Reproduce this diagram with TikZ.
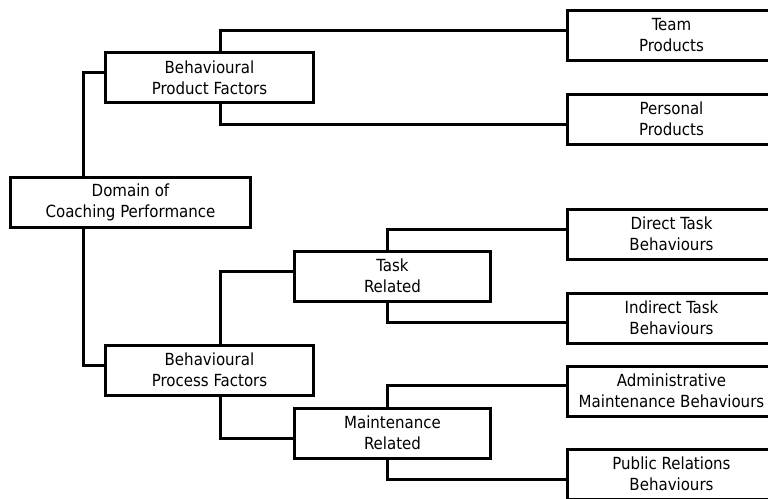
\documentclass[tikz,border=0pt]{standalone}
\usepackage{fontspec}
\newfontfamily\boxfont{DejaVu Sans Condensed}
\begin{document}
\begin{tikzpicture}[x=1pt,y=-1pt]

\def\LINEW{3pt}
\def\BOXTEXT{\boxfont\fontsize{16.7}{21}\selectfont}
\tikzset{box/.style={draw,line width=\LINEW,minimum height=50pt,inner sep=0pt,align=center,font=\BOXTEXT},
         link/.style={line width=\LINEW}}
	\clip (0,0) rectangle (768,498);
	\fill[white] (0,0) rectangle (768,498);
	% spines of the tree
	\coordinate (spineA) at (83,0);
	\coordinate (spineB) at (220,0);
	\coordinate (spineC) at (387,0);
	% boxes
	\node[box,minimum width=240pt] (domain) at (130.5,202.5) {Domain of\\Coaching Performance};
	\node[box,minimum width=208pt] (product) at (209.5,77.5) {Behavioural\\Product Factors};
	\node[box,minimum width=208pt] (process) at (209.5,370) {Behavioural\\Process Factors};
	\node[box,minimum width=196pt] (task) at (392.5,276) {Task\\Related};
	\node[box,minimum width=196pt] (maint) at (392.5,433) {Maintenance\\Related};
	\node[box,minimum width=208pt] (team) at (671.5,35.5) {Team\\Products};
	\node[box,minimum width=208pt] (personal) at (671.5,119) {Personal\\Products};
	\node[box,minimum width=208pt] (direct) at (671.5,234) {Direct Task\\Behaviours};
	\node[box,minimum width=208pt] (indirect) at (671.5,318) {Indirect Task\\Behaviours};
	\node[box,minimum width=208pt] (admin) at (671.5,391) {Administrative\\Maintenance Behaviours};
	\node[box,minimum width=208pt] (public) at (671.5,474) {Public Relations\\Behaviours};
	% links
	\draw[link] (domain.north -| spineA) |- ([yshift=5.5pt]product.west);
	\draw[link] (domain.south -| spineA) |- ([yshift=5pt]process.west);
	\draw[link] (product.north -| spineB) |- ([yshift=5.5pt]team.west);
	\draw[link] (product.south -| spineB) |- ([yshift=-5pt]personal.west);
	\draw[link] (process.north -| spineB) |- ([yshift=5pt]task.west);
	\draw[link] (process.south -| spineB) |- ([yshift=-5pt]maint.west);
	\draw[link] (task.north -| spineC) |- ([yshift=5pt]direct.west);
	\draw[link] (task.south -| spineC) |- ([yshift=-4pt]indirect.west);
	\draw[link] (maint.north -| spineC) |- ([yshift=6pt]admin.west);
	\draw[link] (maint.south -| spineC) |- ([yshift=-5pt]public.west);

\end{tikzpicture}
\end{document}
